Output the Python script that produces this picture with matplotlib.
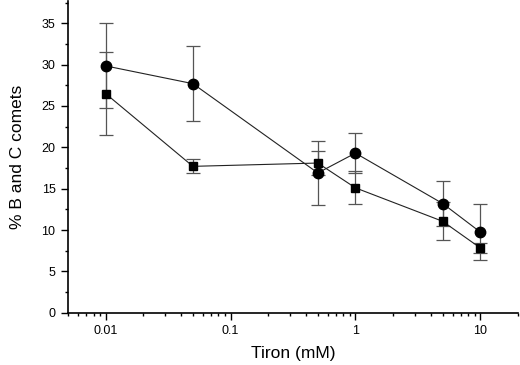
import matplotlib
matplotlib.use("Agg")
import matplotlib.pyplot as plt
from matplotlib.ticker import LogLocator, MultipleLocator, FixedLocator, NullFormatter

plt.rcParams['font.family'] = ['Liberation Sans', 'DejaVu Sans']

# Tiron concentrations (mM)
tiron = [0.01, 0.05, 0.5, 1, 5, 10]

# circles series
circ_val = [29.85, 27.7, 16.9, 19.3, 13.2, 9.75]
circ_err = [5.15, 4.5, 3.9, 2.4, 2.7, 3.35]

# squares series
sq_val = [26.5, 17.7, 18.1, 15.1, 11.05, 7.83]
sq_err = [5.0, 0.85, 1.5, 2.0, 2.3, 0.6]

xtick_vals = [0.01, 0.1, 1, 10]
xtick_labels = ['0.01', '0.1', '1', '10']

fig = plt.figure(figsize=(5.2, 3.65), dpi=100)
ax = fig.add_axes([0.1308, 0.1433, 0.8652, 0.854])

ax.errorbar(tiron, circ_val, yerr=circ_err, fmt='none', ecolor='#555555',
            elinewidth=0.9, capsize=5, capthick=0.9, zorder=2)
ax.errorbar(tiron, sq_val, yerr=sq_err, fmt='none', ecolor='#555555',
            elinewidth=0.9, capsize=5, capthick=0.9, zorder=2)
ax.plot(tiron, circ_val, '-', color='#222222', lw=0.8, marker='o',
        markersize=7.5, markerfacecolor='black', markeredgecolor='black', zorder=3)
ax.plot(tiron, sq_val, '-', color='#222222', lw=0.8, marker='s',
        markersize=5.5, markerfacecolor='black', markeredgecolor='black', zorder=3)

ax.set_xscale('log')
ax.set_xlim(0.005, 20)
ax.set_ylim(0, 37.7)

ax.xaxis.set_major_locator(FixedLocator(xtick_vals))
ax.set_xticklabels(xtick_labels)
ax.xaxis.set_minor_locator(LogLocator(base=10, subs=range(2, 10), numticks=20))
ax.xaxis.set_minor_formatter(NullFormatter())
ax.yaxis.set_major_locator(MultipleLocator(5))
ax.yaxis.set_minor_locator(MultipleLocator(2.5))

for side in ['top', 'right']:
    ax.spines[side].set_visible(False)
for side in ['left', 'bottom']:
    ax.spines[side].set_linewidth(1.2)

ax.tick_params(which='major', direction='out', length=5, width=1.0, labelsize=9, pad=4)
ax.tick_params(which='minor', direction='out', length=2.5, width=1.0)

ax.set_xlabel('Tiron (mM)', fontsize=12.5, labelpad=6)
ax.set_ylabel('% B and C comets', fontsize=12.5, labelpad=12)

fig.savefig('out.png', dpi=100)
